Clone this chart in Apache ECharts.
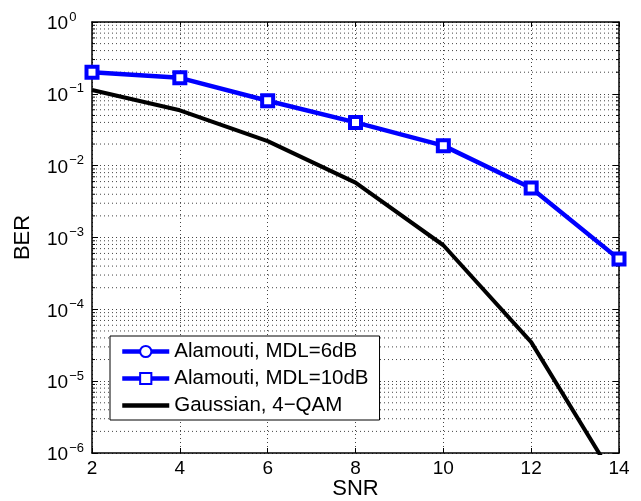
<!DOCTYPE html>
<html><head><meta charset="utf-8">
<script src="https://cdn.jsdelivr.net/npm/echarts@6/dist/echarts.min.js"></script>
<style>html,body{margin:0;padding:0;background:#fff}#c{width:641px;height:501px}</style>
</head><body><div id="c"></div>
<script>
const snr = [2, 4, 6, 8, 10, 12, 14];
const mdl6 = []; // no visible points in the reference
const mdl10 = [0.20, 0.167, 0.080, 0.040, 0.019, 0.0049, 0.0005];
const gauss = [0.113, 0.059, 0.022, 0.0058, 0.00078, 0.000035, 0.00000035];
const xTicks = [2, 4, 6, 8, 10, 12, 14];
const yDecades = [-6, -5, -4, -3, -2, -1, 0];

const FONT = 'Liberation Sans';
const minorVals = [];
for (let e = -6; e < 0; e++) for (let m = 2; m <= 9; m++) minorVals.push([2, m * Math.pow(10, e)]);

const chart = echarts.init(document.getElementById('c'));
const pair = (ys) => snr.map((x, i) => [x, ys[i]]);
const dot = { color: '#444', width: 1, type: [1, 3] };

chart.setOption({
  animation: false,
  backgroundColor: '#fff',
  grid: { left: 92, top: 22, right: 22, bottom: 48, containLabel: false, outerBoundsMode: 'none' },
  xAxis: [{
    type: 'value', min: xTicks[0], max: xTicks[xTicks.length - 1], interval: 2,
    name: 'SNR', nameLocation: 'middle', nameGap: 25, nameMoveOverlap: false,
    nameTextStyle: { fontFamily: FONT, fontSize: 22, color: '#000' },
    axisLine: { show: true, lineStyle: { color: '#000', width: 1.5 } },
    axisTick: { show: true, inside: true, length: 5, lineStyle: { color: '#000' } },
    axisLabel: { fontFamily: FONT, fontSize: 19, color: '#000', margin: 6 },
    splitLine: { show: true, lineStyle: dot }
  }, {
    type: 'value', min: xTicks[0], max: xTicks[xTicks.length - 1], interval: 2, position: 'top',
    axisLine: { show: true, onZero: false, lineStyle: { color: '#000', width: 1.5 } },
    axisTick: { show: true, inside: true, length: 5, lineStyle: { color: '#000' } },
    axisLabel: { show: false }, splitLine: { show: false }
  }],
  yAxis: [{
    type: 'log', logBase: 10, min: Math.pow(10, yDecades[0]), max: Math.pow(10, yDecades[yDecades.length - 1]),
    name: 'BER', nameLocation: 'middle', nameGap: 58, nameMoveOverlap: false,
    nameTextStyle: { fontFamily: FONT, fontSize: 22, color: '#000' },
    axisLine: { show: true, lineStyle: { color: '#000', width: 1.5 } },
    axisTick: { show: true, inside: true, length: 6, lineStyle: { color: '#000' } },
    minorTick: { show: false },
    axisLabel: {
      margin: 45, align: 'left',
      formatter: (v) => {
        const e = Math.round(Math.log10(v));
        return '{b|10}{s|' + (e < 0 ? '\u2212' + (-e) : e) + '}';
      },
      rich: {
        b: { fontFamily: FONT, fontSize: 19, color: '#000', verticalAlign: 'bottom' },
        s: { fontFamily: FONT, fontSize: 13, color: '#000', verticalAlign: 'bottom', padding: [0, 0, 10, 1] }
      }
    },
    splitLine: { show: true, lineStyle: dot }
  }, {
    type: 'log', logBase: 10, min: Math.pow(10, yDecades[0]), max: Math.pow(10, yDecades[yDecades.length - 1]), position: 'right',
    axisLine: { show: true, lineStyle: { color: '#000', width: 1.5 } },
    axisTick: { show: true, inside: true, length: 6, lineStyle: { color: '#000' } },
    axisLabel: { show: false }, splitLine: { show: false }
  }],
  legend: {
    orient: 'vertical', left: 110, top: 336,
    backgroundColor: '#fff', borderColor: '#000', borderWidth: 1,
    padding: [5, 11, 4, 10], itemWidth: 47, itemHeight: 14, itemGap: 6,
    textStyle: { fontFamily: FONT, fontSize: 20.5, color: '#000' },
    data: [
      { name: 'Alamouti, MDL=6dB', lineStyle: { width: 4.5, color: '#0000ff' } },
      { name: 'Alamouti, MDL=10dB', lineStyle: { width: 4.5, color: '#0000ff' } },
      { name: 'Gaussian, 4\u2212QAM', lineStyle: { width: 4.5, color: '#000' }, itemStyle: { opacity: 0 } }
    ]
  },
  series: [{
    type: 'custom', name: 'minorgrid', silent: true, z: 1,
    data: minorVals, encode: { x: 0, y: 1 },
    renderItem: (params, api) => {
      const v = api.value(1);
      const p1 = api.coord([xTicks[0], v]);
      const p2 = api.coord([xTicks[xTicks.length - 1], v]);
      return {
        type: 'group', children: [
          { type: 'line', shape: { x1: p1[0], y1: p1[1], x2: p2[0], y2: p2[1] }, style: { stroke: '#444', lineWidth: 1, lineDash: [1, 3] } },
          { type: 'line', shape: { x1: p1[0], y1: p1[1], x2: p1[0] + 3, y2: p1[1] }, style: { stroke: '#000', lineWidth: 1 } },
          { type: 'line', shape: { x1: p2[0] - 3, y1: p2[1], x2: p2[0], y2: p2[1] }, style: { stroke: '#000', lineWidth: 1 } }
        ]
      };
    }
  }, {
    type: 'line', name: 'Alamouti, MDL=6dB', data: pair(mdl6).filter(d => d[1] != null),
    symbol: 'circle', symbolSize: 11, z: 3,
    lineStyle: { color: '#0000ff', width: 4.5 },
    itemStyle: { color: '#fff', borderColor: '#0000ff', borderWidth: 3.5 }
  }, {
    type: 'line', name: 'Alamouti, MDL=10dB', data: pair(mdl10),
    symbol: 'rect', symbolSize: 11, z: 4, clip: true,
    lineStyle: { color: '#0000ff', width: 4.5 },
    itemStyle: { color: '#fff', borderColor: '#0000ff', borderWidth: 4 }
  }, {
    type: 'line', name: 'Gaussian, 4\u2212QAM', data: pair(gauss),
    symbol: 'none', z: 3, clip: true,
    lineStyle: { color: '#000', width: 4 },
    itemStyle: { color: '#000' }
  }]
});
</script></body></html>
